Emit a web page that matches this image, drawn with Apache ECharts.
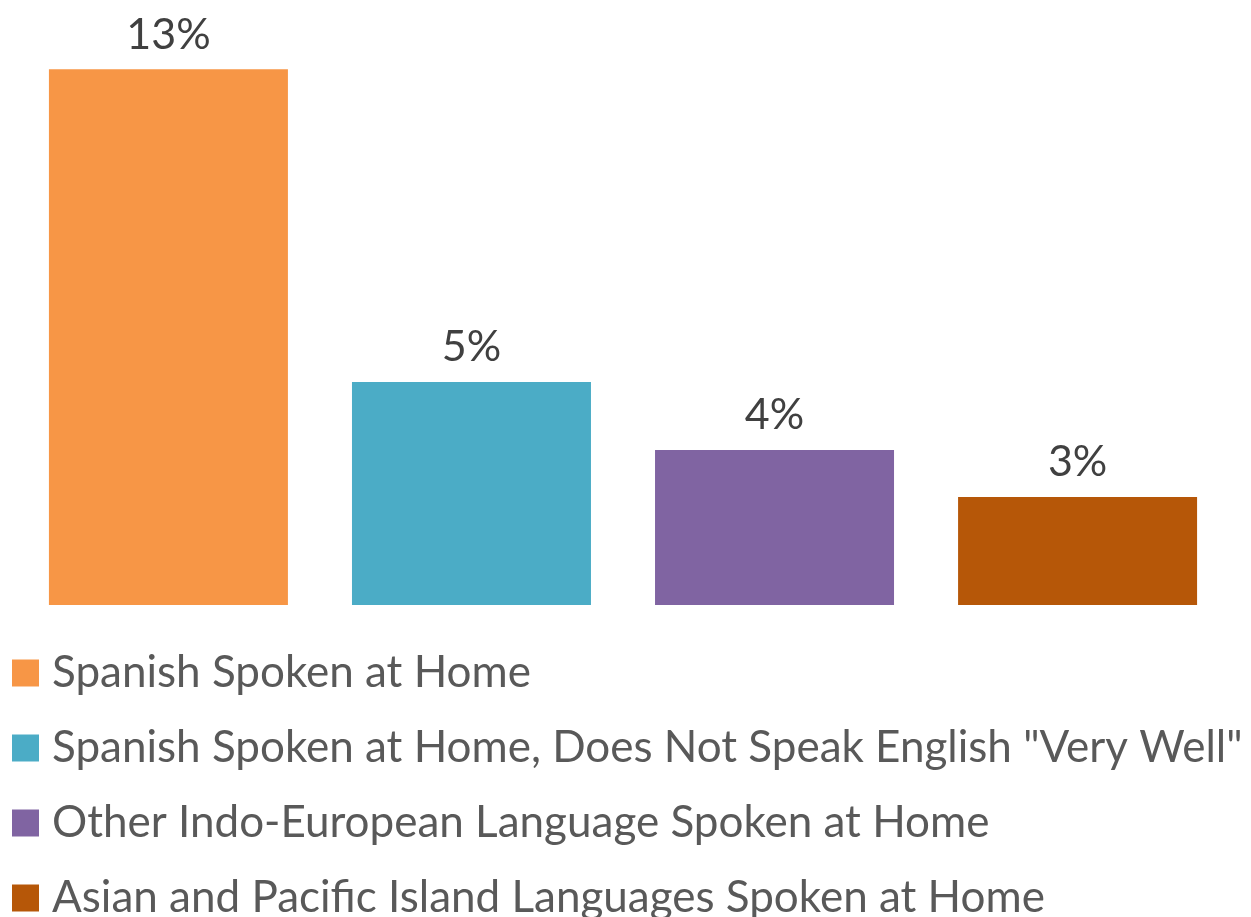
<!DOCTYPE html>
<html>
<head>
<meta charset="utf-8">
<script src="https://cdn.jsdelivr.net/npm/echarts@6/dist/echarts.min.js"></script>
<style>
  html, body { margin: 0; padding: 0; background: #fff; }
  #main { width: 1251px; height: 917px; }
</style>
</head>
<body>
<div id="main"></div>
<script>
// data
var seriesNames = [
  'Spanish Spoken at Home',
  'Spanish Spoken at Home, Does Not Speak English "Very Well"',
  'Other Indo-European Language Spoken at Home',
  'Asian and Pacific Island Languages Spoken at Home'
];
var seriesValues = [13.0, 5.41, 3.76, 2.62];
var seriesColors = ['#F79646', '#4BACC6', '#8064A2', '#B65708'];
var categories = [''];

var chart = echarts.init(document.getElementById('main'));

var series = seriesNames.map(function (name, i) {
  return {
    name: name,
    type: 'bar',
    data: [seriesValues[i]],
    barWidth: 239,
    barGap: '26.8%',
    itemStyle: { color: seriesColors[i] },
    label: {
      show: true,
      position: 'top',
      distance: 13,
      color: '#404040',
      fontSize: 43,
      fontFamily: 'Lato',
      formatter: function (p) { return Math.round(p.value) + '%'; }
    }
  };
});

var option = {
  animation: false,
  grid: {
    left: 17,
    right: 22,
    top: 28,
    bottom: 312
  },
  legend: {
    orient: 'vertical',
    left: 7,
    top: 651,
    height: 320,
    padding: [0, 5, 0, 5],
    itemWidth: 27,
    itemHeight: 27,
    itemGap: 31,
    icon: 'rect',
    textStyle: {
      fontSize: 44,
      lineHeight: 42,
      fontFamily: 'Lato',
      color: '#595959',
      padding: [0, 0, 0, 8]
    },
    data: seriesNames
  },
  xAxis: {
    type: 'category',
    data: categories,
    show: false
  },
  yAxis: {
    type: 'value',
    min: 0,
    max: 14,
    show: false
  },
  series: series
};

chart.setOption(option);
</script>
</body>
</html>
